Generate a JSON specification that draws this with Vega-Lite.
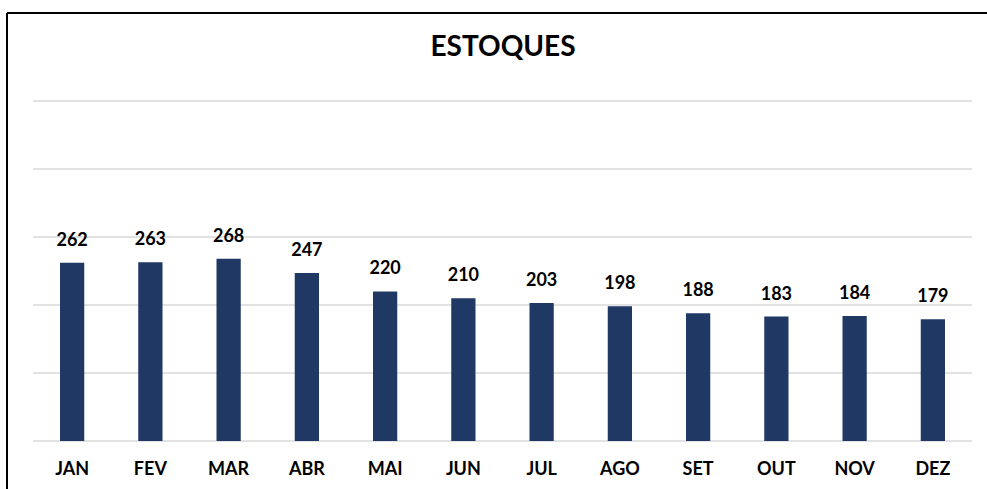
{
  "$schema": "https://vega.github.io/schema/vega-lite/v6.json",
  "width": 980,
  "height": 476,
  "autosize": {"type": "none"},
  "padding": {"left": 7, "top": 13, "right": 0, "bottom": 0},
  "background": "white",
  "config": {
    "view": {"stroke": "black", "strokeWidth": 2, "strokeDash": [980, 1456, 476, 0]},
    "font": "Lato"
  },
  "title": {
    "text": "ESTOQUES",
    "fontSize": 28,
    "fontWeight": "bold",
    "color": "black",
    "font": "Lato",
    "offset": -49,
    "dx": 6,
    "anchor": "middle",
    "frame": "group"
  },
  "datasets": {
    "estoques": [
      {"mes": "JAN", "valor": 262},
      {"mes": "FEV", "valor": 263},
      {"mes": "MAR", "valor": 268},
      {"mes": "ABR", "valor": 247},
      {"mes": "MAI", "valor": 220},
      {"mes": "JUN", "valor": 210},
      {"mes": "JUL", "valor": 203},
      {"mes": "AGO", "valor": 198},
      {"mes": "SET", "valor": 188},
      {"mes": "OUT", "valor": 183},
      {"mes": "NOV", "valor": 184},
      {"mes": "DEZ", "valor": 179}
    ],
    "grade": [
      {"valor": 0}, {"valor": 100}, {"valor": 200}, {"valor": 300}, {"valor": 400}, {"valor": 500}
    ]
  },
  "layer": [
    {
      "data": {"name": "grade"},
      "mark": {"type": "rule", "color": "#D9D9D9", "strokeWidth": 1.5},
      "encoding": {
        "y": {"field": "valor", "type": "quantitative", "scale": {"domain": [0, 500], "range": [428, 88]}, "axis": null},
        "x": {"datum": "JAN", "type": "nominal", "bandPosition": -1.11},
        "x2": {"datum": "DEZ", "bandPosition": 2.11}
      }
    },
    {
      "data": {"name": "estoques"},
      "mark": {"type": "bar", "color": "#203864"},
      "encoding": {
        "x": {
          "field": "mes",
          "type": "nominal",
          "sort": null,
          "scale": {
            "domain": ["JAN", "FEV", "MAR", "ABR", "MAI", "JUN", "JUL", "AGO", "SET", "OUT", "NOV", "DEZ"],
            "range": [26, 965],
            "paddingInner": 0.69,
            "paddingOuter": 0.345
          },
          "axis": {
            "title": null,
            "orient": "bottom",
            "offset": -48,
            "labelPadding": 28,
            "bandPosition": 0.5,
            "ticks": false,
            "domain": false,
            "grid": false,
            "labelAngle": 0,
            "labelAlign": "center",
            "labelFontSize": 18,
            "labelFontWeight": "bold",
            "labelColor": "black",
            "labelFont": "Lato"
          }
        },
        "y": {"field": "valor", "type": "quantitative"}
      }
    },
    {
      "data": {"name": "estoques"},
      "mark": {"type": "text", "baseline": "alphabetic", "dy": -17, "fontSize": 18, "fontWeight": "bold", "color": "black", "font": "Lato"},
      "encoding": {
        "x": {"field": "mes", "type": "nominal", "sort": null},
        "y": {"field": "valor", "type": "quantitative"},
        "text": {"field": "valor", "type": "quantitative"}
      }
    }
  ]
}
